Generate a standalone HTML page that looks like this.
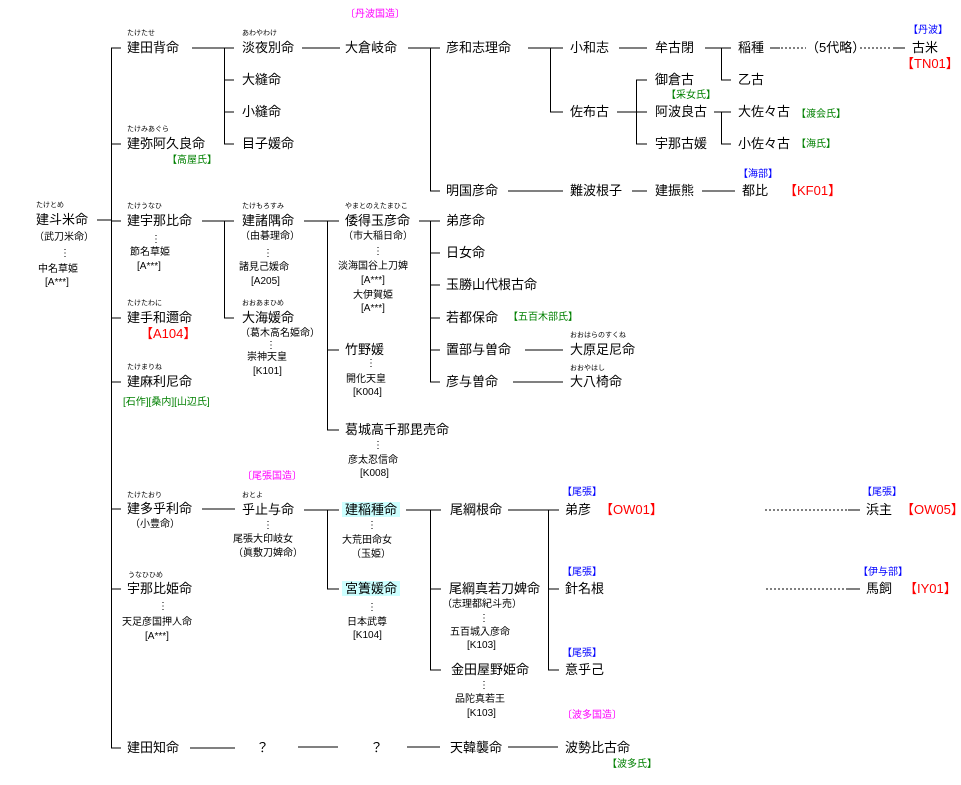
<!DOCTYPE html>
<html><head><meta charset="utf-8"><style>
body{margin:0;background:#fff;}
#c{position:relative;width:961px;height:785px;overflow:hidden;font-family:"Liberation Sans","Noto Sans CJK JP",sans-serif;color:#000;}
.t{position:absolute;font-size:13px;line-height:16px;white-space:nowrap;}
.s{position:absolute;font-size:10px;line-height:12px;white-space:nowrap;}
.r{position:absolute;font-size:7px;line-height:8px;white-space:nowrap;}
.g{color:#008000}.b{color:#0000ff}.m{color:#ff00ff}.red{color:#ff0000}
.hl{background:#ccffff;padding:0 3px;margin-left:-3px;}
svg{position:absolute;left:0;top:0;}
</style></head><body><div id="c">
<svg width="961" height="785" shape-rendering="crispEdges" stroke="#000" stroke-width="1" fill="none">
<path d="M111.5 48V748M111 48H121M111 144H121M111 221H121M111 318H121M111 382H121M111 509H121M111 589H121M111 748H121M97 220H111"/>
<path d="M192 48H234M224.5 48V144M224 80H234M224 112H234M224 144H234"/>
<path d="M202 221H234M224.5 221V318M224 318H234"/>
<path d="M202 509H235M190 748H235"/>
<path d="M302 48H340M304 221H339M327.5 221V430M327 350H339M327 430H339"/>
<path d="M304 510H339M327.5 510V589M327 589H339M298 747H338"/>
<path d="M408 48H440M430.5 48V191M430 191H440"/>
<path d="M419 221H440M430.5 221V382M430 253H440M430 285H440M430 318H440M430 350H440M430 382H440"/>
<path d="M406 510H441M430.5 510V670M430 589H441M430 670H441M407 747H440"/>
<path d="M528 48H563M550.5 48V112M550 112H563M508 191H563M525 350H563M513 382H563"/>
<path d="M508 510H559M548.5 510V670M548 589H559M548 670H559M508 747H558"/>
<path d="M619 48H647M617 112H647M636.5 80V144M636 80H647M636 144H647M632 191H647"/>
<path d="M705 48H731M721.5 48V80M721 80H731M714 112H731M721.5 112V144M721 144H731M702 191H735"/>
<path d="M770 48H780M893 48H905M848 510H860M848 589H860"/>
<path d="M781 48H806M860 48H890M765 510H848M766 589H848" stroke-dasharray="2 2"/>
</svg>

<div class="r" style="left:127px;top:30px">たけたせ</div><div class="t" style="left:127px;top:40px">建田背命</div>
<div class="r" style="left:127px;top:126px">たけみあぐら</div><div class="t" style="left:127px;top:136px">建弥阿久良命</div>
<div class="s g" style="left:167px;top:155px">【高屋氏】</div>
<div class="r" style="left:36px;top:202px">たけとめ</div><div class="t" style="left:36px;top:212px">建斗米命</div>
<div class="s" style="left:34px;top:232px">（武刀米命）</div><div class="s" style="left:60px;top:248px">⋮</div>
<div class="s" style="left:38px;top:264px">中名草姫</div><div class="s" style="left:45px;top:277px">[A***]</div>
<div class="r" style="left:127px;top:203px">たけうなひ</div><div class="t" style="left:127px;top:213px">建宇那比命</div>
<div class="s" style="left:151px;top:234px">⋮</div><div class="s" style="left:130px;top:247px">節名草姫</div><div class="s" style="left:137px;top:261px">[A***]</div>
<div class="r" style="left:127px;top:300px">たけたわに</div><div class="t" style="left:127px;top:310px">建手和邇命</div>
<div class="t red" style="left:140px;top:326px">【A104】</div>
<div class="r" style="left:127px;top:364px">たけまりね</div><div class="t" style="left:127px;top:374px">建麻利尼命</div>
<div class="s g" style="left:123px;top:397px">[石作][桑内][山辺氏]</div>
<div class="r" style="left:127px;top:492px">たけたおり</div><div class="t" style="left:127px;top:501px">建多乎利命</div>
<div class="s" style="left:130px;top:519px">（小豊命）</div>
<div class="r" style="left:128px;top:572px">うなひひめ</div><div class="t" style="left:127px;top:581px">宇那比姫命</div>
<div class="s" style="left:158px;top:601px">⋮</div><div class="s" style="left:122px;top:617px">天足彦国押人命</div><div class="s" style="left:145px;top:631px">[A***]</div>
<div class="t" style="left:127px;top:740px">建田知命</div>

<div class="r" style="left:242px;top:30px">あわやわけ</div><div class="t" style="left:242px;top:40px">淡夜別命</div>
<div class="t" style="left:242px;top:72px">大縫命</div><div class="t" style="left:242px;top:104px">小縫命</div><div class="t" style="left:242px;top:136px">目子媛命</div>
<div class="r" style="left:242px;top:203px">たけもろすみ</div><div class="t" style="left:242px;top:213px">建諸隅命</div>
<div class="s" style="left:240px;top:231px">（由碁理命）</div><div class="s" style="left:263px;top:248px">⋮</div>
<div class="s" style="left:239px;top:262px">諸見己媛命</div><div class="s" style="left:251px;top:276px">[A205]</div>
<div class="r" style="left:242px;top:300px">おおあまひめ</div><div class="t" style="left:242px;top:310px">大海媛命</div>
<div class="s" style="left:240px;top:328px">（葛木高名姫命）</div><div class="s" style="left:266px;top:340px">⋮</div>
<div class="s" style="left:247px;top:352px">崇神天皇</div><div class="s" style="left:253px;top:366px">[K101]</div>
<div class="s m" style="left:242px;top:471px">〔尾張国造〕</div>
<div class="r" style="left:242px;top:492px">おとよ</div><div class="t" style="left:242px;top:502px">乎止与命</div>
<div class="s" style="left:263px;top:520px">⋮</div><div class="s" style="left:233px;top:534px">尾張大印岐女</div><div class="s" style="left:233px;top:548px">（眞敷刀婢命）</div>
<div class="t" style="left:256px;top:740px">？</div>

<div class="s m" style="left:345px;top:9px">〔丹波国造〕</div>
<div class="t" style="left:345px;top:40px">大倉岐命</div>
<div class="r" style="left:345px;top:203px">やまとのえたまひこ</div><div class="t" style="left:345px;top:213px">倭得玉彦命</div>
<div class="s" style="left:343px;top:231px">（市大稲日命）</div><div class="s" style="left:373px;top:246px">⋮</div>
<div class="s" style="left:338px;top:261px">淡海国谷上刀婢</div><div class="s" style="left:361px;top:275px">[A***]</div>
<div class="s" style="left:353px;top:290px">大伊賀姫</div><div class="s" style="left:361px;top:303px">[A***]</div>
<div class="t" style="left:345px;top:342px">竹野媛</div><div class="s" style="left:366px;top:358px">⋮</div>
<div class="s" style="left:346px;top:374px">開化天皇</div><div class="s" style="left:353px;top:387px">[K004]</div>
<div class="t" style="left:345px;top:422px">葛城高千那毘売命</div><div class="s" style="left:373px;top:440px">⋮</div>
<div class="s" style="left:348px;top:455px">彦太忍信命</div><div class="s" style="left:360px;top:468px">[K008]</div>
<div class="t" style="left:345px;top:502px"><span class="hl">建稲種命</span></div><div class="s" style="left:367px;top:520px">⋮</div>
<div class="s" style="left:342px;top:535px">大荒田命女</div><div class="s" style="left:351px;top:549px">（玉姫）</div>
<div class="t" style="left:345px;top:581px"><span class="hl">宮簀媛命</span></div><div class="s" style="left:367px;top:602px">⋮</div>
<div class="s" style="left:347px;top:617px">日本武尊</div><div class="s" style="left:353px;top:630px">[K104]</div>
<div class="t" style="left:370px;top:740px">？</div>

<div class="t" style="left:446px;top:40px">彦和志理命</div><div class="t" style="left:446px;top:183px">明国彦命</div>
<div class="t" style="left:446px;top:213px">弟彦命</div><div class="t" style="left:446px;top:245px">日女命</div>
<div class="t" style="left:446px;top:277px">玉勝山代根古命</div><div class="t" style="left:446px;top:310px">若都保命</div>
<div class="s g" style="left:508px;top:312px">【五百木部氏】</div>
<div class="t" style="left:446px;top:342px">置部与曽命</div><div class="t" style="left:446px;top:374px">彦与曽命</div>
<div class="t" style="left:450px;top:502px">尾綱根命</div><div class="t" style="left:449px;top:581px">尾綱真若刀婢命</div>
<div class="s" style="left:442px;top:599px">（志理都紀斗売）</div><div class="s" style="left:479px;top:613px">⋮</div>
<div class="s" style="left:450px;top:627px">五百城入彦命</div><div class="s" style="left:467px;top:640px">[K103]</div>
<div class="t" style="left:451px;top:662px">金田屋野姫命</div><div class="s" style="left:479px;top:680px">⋮</div>
<div class="s" style="left:455px;top:694px">品陀真若王</div><div class="s" style="left:467px;top:708px">[K103]</div>
<div class="t" style="left:450px;top:740px">天韓襲命</div>

<div class="t" style="left:570px;top:40px">小和志</div><div class="t" style="left:570px;top:104px">佐布古</div>
<div class="t" style="left:570px;top:183px">難波根子</div>
<div class="r" style="left:570px;top:332px">おおはらのすくね</div><div class="t" style="left:570px;top:342px">大原足尼命</div>
<div class="r" style="left:570px;top:365px">おおやはし</div><div class="t" style="left:570px;top:374px">大八椅命</div>
<div class="s b" style="left:562px;top:487px">【尾張】</div><div class="t" style="left:565px;top:502px">弟彦</div>
<div class="t red" style="left:600px;top:502px">【OW01】</div>
<div class="s b" style="left:562px;top:567px">【尾張】</div><div class="t" style="left:565px;top:581px">針名根</div>
<div class="s b" style="left:562px;top:648px">【尾張】</div><div class="t" style="left:565px;top:662px">意乎己</div>
<div class="s m" style="left:562px;top:710px">〔波多国造〕</div>
<div class="t" style="left:565px;top:740px">波勢比古命</div><div class="s g" style="left:607px;top:759px">【波多氏】</div>

<div class="t" style="left:655px;top:40px">牟古閉</div><div class="t" style="left:655px;top:72px">御倉古</div>
<div class="s g" style="left:666px;top:90px">【采女氏】</div>
<div class="t" style="left:655px;top:104px">阿波良古</div><div class="t" style="left:655px;top:136px">宇那古媛</div>
<div class="t" style="left:655px;top:183px">建振熊</div>

<div class="t" style="left:738px;top:40px">稲種</div><div class="t" style="left:738px;top:72px">乙古</div>
<div class="t" style="left:738px;top:104px">大佐々古</div><div class="s g" style="left:796px;top:109px">【渡会氏】</div>
<div class="t" style="left:738px;top:136px">小佐々古</div><div class="s g" style="left:796px;top:139px">【海氏】</div>
<div class="s b" style="left:738px;top:169px">【海部】</div><div class="t" style="left:742px;top:183px">都比</div>
<div class="t red" style="left:784px;top:183px">【KF01】</div>
<div class="t" style="left:806px;top:40px">（5代略）</div>
<div class="s b" style="left:908px;top:25px">【丹波】</div><div class="t" style="left:912px;top:40px">古米</div>
<div class="t red" style="left:901px;top:56px">【TN01】</div>
<div class="s b" style="left:862px;top:487px">【尾張】</div><div class="t" style="left:866px;top:502px">浜主</div>
<div class="t red" style="left:901px;top:502px">【OW05】</div>
<div class="s b" style="left:858px;top:567px">【伊与部】</div><div class="t" style="left:866px;top:581px">馬飼</div>
<div class="t red" style="left:904px;top:581px">【IY01】</div>
</div></body></html>
